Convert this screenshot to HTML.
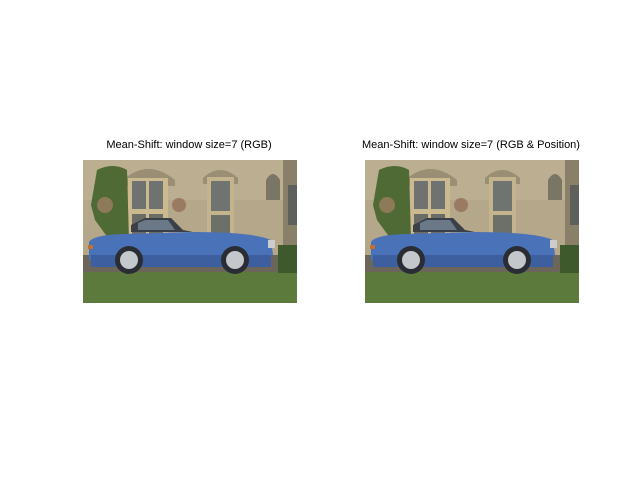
<!DOCTYPE html>
<html><head><meta charset="utf-8"><style>
html,body{margin:0;padding:0;background:#fff;}
body{width:640px;height:480px;position:relative;overflow:hidden;font-family:"Liberation Sans",sans-serif;}
.t{position:absolute;font-size:11px;color:#000;white-space:nowrap;text-align:center;width:260px;}
</style></head><body>
<svg width="0" height="0" style="position:absolute">
<defs>
<g id="photo">
<rect x="0" y="0" width="214" height="143" fill="#b5a789"/>
<rect x="0" y="0" width="214" height="40" fill="#bcae90"/>
<rect x="200" y="0" width="14" height="110" fill="#8a7f68"/>
<rect x="205" y="25" width="9" height="40" fill="#5e605c"/>
<path d="M40 20 Q65 -2 92 20 L92 26 L40 26Z" fill="#9a8e74"/>
<rect x="45" y="18" width="40" height="62" fill="#cbb98f"/>
<rect x="49" y="21" width="14" height="28" fill="#6f7270"/>
<rect x="66" y="21" width="14" height="28" fill="#6f7270"/>
<rect x="49" y="54" width="14" height="24" fill="#6a6c66"/>
<rect x="66" y="54" width="14" height="24" fill="#6a6c66"/>
<path d="M120 18 Q137 2 155 18 L155 24 L120 24Z" fill="#9a8e74"/>
<rect x="124" y="17" width="27" height="60" fill="#c4b48e"/>
<rect x="128" y="21" width="19" height="30" fill="#707470"/>
<rect x="128" y="55" width="19" height="20" fill="#6d6f69"/>
<path d="M183 20 Q190 8 197 20 L197 40 L183 40Z" fill="#7a7666"/>
<path d="M14 10 Q30 2 44 10 L46 80 L28 82 L12 60 L8 45Z" fill="#4f6a34"/>
<circle cx="22" cy="45" r="8" fill="#8c7a58"/>
<circle cx="96" cy="45" r="7" fill="#9a7a60"/>
<rect x="0" y="95" width="214" height="20" fill="#6c665a"/>
<rect x="0" y="112" width="214" height="31" fill="#5b7a3c"/>
<rect x="195" y="85" width="19" height="28" fill="#3e5a2c"/>
<path d="M48 65 L62 58 L88 58 L100 70 L110 72 L48 72Z" fill="#3b4048"/>
<path d="M55 63 L62 60 L85 60 L92 70 L55 70Z" fill="#6a7888"/>
<path d="M6 82 Q10 75 40 74 L110 72 Q170 72 188 80 L190 95 L180 100 L6 100Z" fill="#4a72b9"/>
<rect x="8" y="95" width="180" height="12" fill="#3d5f9f"/>
<circle cx="46" cy="100" r="14" fill="#2a2e34"/>
<circle cx="46" cy="100" r="9" fill="#c4c8cc"/>
<circle cx="152" cy="100" r="14" fill="#2a2e34"/>
<circle cx="152" cy="100" r="9" fill="#c4c8cc"/>
<rect x="5" y="85" width="5" height="4" fill="#c07030"/>
<rect x="185" y="80" width="7" height="8" fill="#ccc"/>
</g>
</defs>
</svg>
<div class="t" style="left:59px;top:139px;">Mean-Shift: window size=7 (RGB)</div>
<div class="t" style="left:341px;top:139px;">Mean-Shift: window size=7 (RGB &amp; Position)</div>
<svg style="position:absolute;left:83px;top:160px" width="214" height="143"><use href="#photo"/></svg>
<svg style="position:absolute;left:365px;top:160px" width="214" height="143"><use href="#photo"/></svg>
</body></html>
